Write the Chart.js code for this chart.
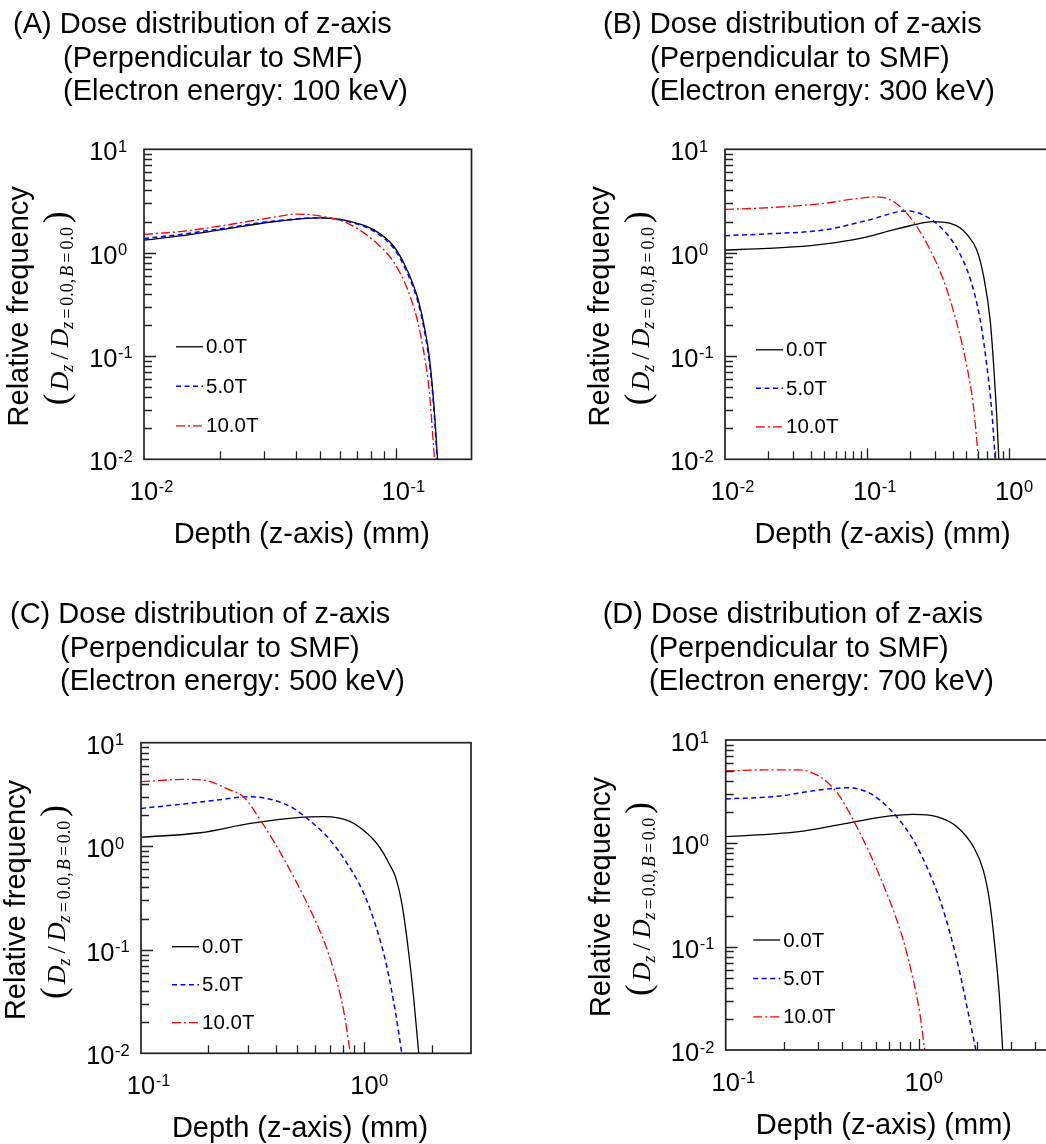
<!DOCTYPE html>
<html>
<head>
<meta charset="utf-8">
<script src="https://cdn.jsdelivr.net/npm/chart.js@4.4.1/dist/chart.umd.min.js"></script>
<style>
  html, body { margin: 0; padding: 0; background: #fff; }
  body { position: relative; width: 1046px; height: 1144px; overflow: hidden; }
  canvas { position: absolute; }
</style>
</head>
<body>
<canvas id="chartA" width="560" height="590" style="left:0;top:0"></canvas>
<canvas id="chartB" width="600" height="590" style="left:580px;top:0"></canvas>
<canvas id="chartC" width="560" height="554" style="left:0;top:590px"></canvas>
<canvas id="chartD" width="600" height="554" style="left:580px;top:590px"></canvas>
<script>
// magnetic field strengths and electron energies
const fieldsT = [0.0, 5.0, 10.0];
const energiesKeV = [100, 300, 500, 700];

// decade exponents used for tick labels
const yTickExps = [1, 0, -1, -2];
const xTickExpsA = [-2, -1];
const xTickExpsB = [-2, -1, 0];
const xTickExpsC = [-1, 0];
const xTickExpsD = [-1, 0];

// [depth (mm), D_z / D_z=0,B=0] per field strength
const a100_0T = [[0.0100,1.32],[0.0139,1.45],[0.0201,1.66],[0.0327,1.99],[0.0502,2.17],[0.0641,2.04],[0.0820,1.66],[0.0985,1.14],[0.111,0.68],[0.122,0.37],[0.130,0.19],[0.136,0.098],[0.142,0.032],[0.1466,0.0100]];
const a100_5T = [[0.0100,1.37],[0.0139,1.50],[0.0201,1.70],[0.0327,2.02],[0.0502,2.17],[0.0641,2.01],[0.0820,1.61],[0.0985,1.09],[0.111,0.64],[0.122,0.345],[0.130,0.175],[0.136,0.088],[0.142,0.029],[0.1460,0.0100]];
const a100_10T = [[0.0100,1.50],[0.0139,1.60],[0.0201,1.81],[0.0327,2.20],[0.0406,2.36],[0.0502,2.26],[0.0641,1.93],[0.0820,1.30],[0.0985,0.80],[0.111,0.45],[0.122,0.22],[0.130,0.10],[0.136,0.045],[0.1425,0.0100]];

const b300_0T = [[0.01,1.06],[0.02,1.10],[0.04,1.17],[0.06,1.25],[0.1,1.42],[0.15,1.65],[0.2,1.82],[0.29,2.0],[0.38,1.93],[0.45,1.74],[0.504,1.5],[0.593,1.05],[0.659,0.6],[0.735,0.22],[0.78,0.075],[0.815,0.028],[0.845,0.0100]];
const b300_5T = [[0.01,1.46],[0.02,1.52],[0.05,1.66],[0.1,2.05],[0.19,2.53],[0.249,2.31],[0.327,1.78],[0.428,1.1],[0.531,0.56],[0.625,0.223],[0.697,0.079],[0.756,0.028],[0.797,0.0100]];
const b300_10T = [[0.01,2.62],[0.02,2.72],[0.05,3.0],[0.08,3.3],[0.115,3.47],[0.145,3.25],[0.18,2.6],[0.224,1.78],[0.278,1.06],[0.345,0.54],[0.428,0.207],[0.504,0.079],[0.561,0.032],[0.608,0.0100]];

const c500_0T = [[0.1,1.22],[0.184,1.35],[0.309,1.66],[0.516,1.90],[0.657,1.93],[0.865,1.73],[1.03,1.33],[1.13,1.08],[1.22,0.85],[1.30,0.66],[1.38,0.5],[1.48,0.26],[1.58,0.092],[1.66,0.035],[1.75,0.0100]];
const c500_5T = [[0.1,2.32],[0.155,2.56],[0.218,2.79],[0.308,3.01],[0.392,2.79],[0.482,2.32],[0.553,1.86],[0.681,1.24],[0.836,0.684],[0.993,0.351],[1.14,0.155],[1.26,0.0685],[1.38,0.0243],[1.47,0.0100]];
const c500_10T = [[0.1,4.2],[0.16,4.43],[0.197,4.3],[0.242,3.6],[0.29,2.95],[0.342,1.79],[0.406,0.99],[0.482,0.507],[0.573,0.242],[0.657,0.124],[0.728,0.064],[0.807,0.026],[0.865,0.0100]];

const d700_0T = [[0.1,1.16],[0.233,1.29],[0.423,1.56],[0.708,1.84],[0.934,1.91],[1.235,1.81],[1.57,1.45],[1.91,0.93],[2.15,0.55],[2.33,0.26],[2.47,0.10],[2.60,0.035],[2.71,0.0100]];
const d700_5T = [[0.1,2.69],[0.191,2.87],[0.284,3.23],[0.423,3.45],[0.536,3.16],[0.628,2.62],[0.767,1.81],[0.934,1.08],[1.096,0.594],[1.285,0.282],[1.447,0.135],[1.63,0.055],[1.80,0.0226],[1.97,0.0100]];
const d700_10T = [[0.1,5.01],[0.157,5.13],[0.242,5.13],[0.284,4.76],[0.333,3.95],[0.39,2.83],[0.457,1.68],[0.536,0.927],[0.628,0.475],[0.736,0.226],[0.829,0.116],[0.934,0.0475],[1.01,0.0226],[1.07,0.0100]];

const SANS = '"Liberation Sans", Arial, sans-serif';
const SERIF = '"Liberation Serif", "Times New Roman", serif';

const lineStyles = [
  { color: '#000000', dash: [], width: 1.3 },
  { color: '#0000ff', dash: [5, 3.5], width: 1.5 },
  { color: '#ff0000', dash: [9, 3, 2, 3], width: 1.3 },
];

// plot box [left, top, right, bottom] in canvas px, legend [x offset, y offset, row step]
const panels = {
  chartA: { letter: 'A', keV: energiesKeV[0], plot: [144, 149.3, 471.5, 459.3], xRange: [0.01, 0.2], xExps: xTickExpsA, titleX: [13, 63], legend: [32, 197.5, 39.5], series: [a100_0T, a100_5T, a100_10T] },
  chartB: { letter: 'B', keV: energiesKeV[1], plot: [145, 149.3, 472, 459.3], xRange: [0.01, 2], xExps: xTickExpsB, titleX: [23, 70], legend: [31, 200.5, 38.5], series: [b300_0T, b300_5T, b300_10T] },
  chartC: { letter: 'C', keV: energiesKeV[2], plot: [141, 152.7, 471, 463.3], xRange: [0.1, 3], xExps: xTickExpsC, titleX: [10, 60], legend: [31, 204, 38], series: [c500_0T, c500_5T, c500_10T] },
  chartD: { letter: 'D', keV: energiesKeV[3], plot: [145.7, 150, 474.1, 460], xRange: [0.1, 5], xExps: xTickExpsD, titleX: [22.7, 69], legend: [27.5, 200, 38.4], series: [d700_0T, d700_5T, d700_10T] },
};

function logTicks(min, max) {
  const out = [];
  for (let d = Math.floor(Math.log10(min)); d <= Math.ceil(Math.log10(max)); d++) {
    for (let m = 1; m <= 9; m++) {
      const v = m * Math.pow(10, d);
      if (v > min * 1.0001 && v < max * 0.9999) out.push([v, m === 1]);
    }
  }
  return out;
}

// "10" with a raised exponent; x is the centre (center) or right edge (right) of "10"
function drawPower(ctx, exp, x, base, align) {
  ctx.font = `25.5px ${SANS}`;
  const w = ctx.measureText('10').width;
  const x0 = align === 'center' ? x - w / 2 : x - w;
  ctx.textAlign = 'left';
  ctx.fillText('10', x0, base);
  ctx.font = `16.5px ${SANS}`;
  ctx.fillText(String(exp), x0 + w + 0.5, base - 8.5);
}

// (D_z / D_z=0.0,B=0.0) written along the y axis
function drawRatioLabel(ctx, bx, cy) {
  const it = s => `italic ${s}px ${SERIF}`;
  const up = s => `${s}px ${SERIF}`;
  const parts = [
    ['(', up(35), 0, 3], ['D', it(26), 0, 0], ['z', it(18), 5, 5], ['/', up(26), 0, 5],
    ['D', it(26), 0, 0], ['z', it(18), 5, 3], ['=', up(18), 5, 3], ['0.0,', up(18), 5, 2],
    ['B', it(18), 5, 3], ['=', up(18), 5, 3], ['0.0', up(18), 5, 4], [')', up(35), 0, 0],
  ];
  let total = 0;
  parts.forEach(([t, f, , g]) => { ctx.font = f; total += ctx.measureText(t).width + g; });
  ctx.save();
  ctx.translate(bx, cy);
  ctx.rotate(-Math.PI / 2);
  ctx.textAlign = 'left';
  ctx.textBaseline = 'alphabetic';
  let x = -total / 2;
  parts.forEach(([t, f, dy, g]) => {
    ctx.font = f;
    ctx.fillText(t, x, dy);
    x += ctx.measureText(t).width + g;
  });
  ctx.restore();
}

const framePlugin = {
  id: 'frame',
  afterDraw(chart) {
    const p = panels[chart.canvas.id];
    const { ctx, chartArea: a, scales: { x, y } } = chart;
    ctx.save();

    // ticks point inward
    ctx.strokeStyle = '#222';
    ctx.lineWidth = 1.3;
    ctx.beginPath();
    logTicks(x.min, x.max).forEach(([v, major]) => {
      const px = Math.round(x.getPixelForValue(v)) + 0.5;
      ctx.moveTo(px, a.bottom);
      ctx.lineTo(px, a.bottom - (major ? 11 : 8));
    });
    logTicks(y.min, y.max).forEach(([v, major]) => {
      const py = Math.round(y.getPixelForValue(v)) + 0.5;
      ctx.moveTo(a.left, py);
      ctx.lineTo(a.left + (major ? 12 : 8), py);
    });
    ctx.stroke();

    ctx.lineWidth = 1.7;
    ctx.strokeRect(a.left, a.top, a.right - a.left, a.bottom - a.top);

    // tick labels
    ctx.fillStyle = '#000';
    ctx.textBaseline = 'alphabetic';
    p.xExps.forEach(e => drawPower(ctx, e, x.getPixelForValue(Math.pow(10, e)), a.bottom + 41, 'center'));
    yTickExps.forEach(e => drawPower(ctx, e, a.left - 26.5, y.getPixelForValue(Math.pow(10, e)) + 11, 'right'));

    // axis titles
    ctx.font = `29px ${SANS}`;
    ctx.textAlign = 'center';
    ctx.fillText('Depth (z-axis) (mm)', (a.left + a.right) / 2 - 6, a.bottom + 83.5);
    const cy = (a.top + a.bottom) / 2;
    ctx.save();
    ctx.translate(a.left - 116, cy + 2);
    ctx.rotate(-Math.PI / 2);
    ctx.fillText('Relative frequency', 0, 0);
    ctx.restore();
    drawRatioLabel(ctx, a.left - 76, cy + 4);

    // legend
    const [lx, ly, step] = p.legend;
    lineStyles.forEach((s, i) => {
      const yy = a.top + ly + i * step;
      ctx.strokeStyle = s.color;
      ctx.lineWidth = s.width;
      ctx.setLineDash(s.dash);
      ctx.beginPath();
      ctx.moveTo(a.left + lx, yy);
      ctx.lineTo(a.left + lx + 27, yy);
      ctx.stroke();
      ctx.setLineDash([]);
      ctx.fillStyle = '#000';
      ctx.font = `20.5px ${SANS}`;
      ctx.textAlign = 'left';
      ctx.textBaseline = 'middle';
      ctx.fillText(fieldsT[i].toFixed(1) + 'T', a.left + lx + 30, yy + 1);
    });

    // panel title
    ctx.textBaseline = 'alphabetic';
    ctx.font = `29px ${SANS}`;
    ctx.fillText(`(${p.letter}) Dose distribution of z-axis`, p.titleX[0], 33.3);
    ctx.fillText('(Perpendicular to SMF)', p.titleX[1], 66.7);
    ctx.fillText(`(Electron energy: ${p.keV} keV)`, p.titleX[1], 100);

    ctx.restore();
  },
};

Object.keys(panels).forEach(id => {
  const p = panels[id];
  const cv = document.getElementById(id);
  const [l, t, r, b] = p.plot;
  new Chart(cv, {
    type: 'line',
    data: {
      datasets: p.series.map((pts, i) => ({
        label: fieldsT[i].toFixed(1) + 'T',
        data: pts.map(([x, y]) => ({ x, y })),
        borderColor: lineStyles[i].color,
        borderDash: lineStyles[i].dash,
        borderWidth: lineStyles[i].width,
        pointRadius: 0,
        fill: false,
        cubicInterpolationMode: 'monotone',
        order: 2 - i,
      })),
    },
    options: {
      responsive: false,
      animation: false,
      layout: { padding: { left: l, top: t, right: cv.width - r, bottom: cv.height - b } },
      plugins: { legend: { display: false }, tooltip: { enabled: false } },
      scales: {
        x: { type: 'logarithmic', display: false, min: p.xRange[0], max: p.xRange[1] },
        y: { type: 'logarithmic', display: false, min: 0.01, max: 10 },
      },
    },
    plugins: [framePlugin],
  });
});
</script>
</body>
</html>
